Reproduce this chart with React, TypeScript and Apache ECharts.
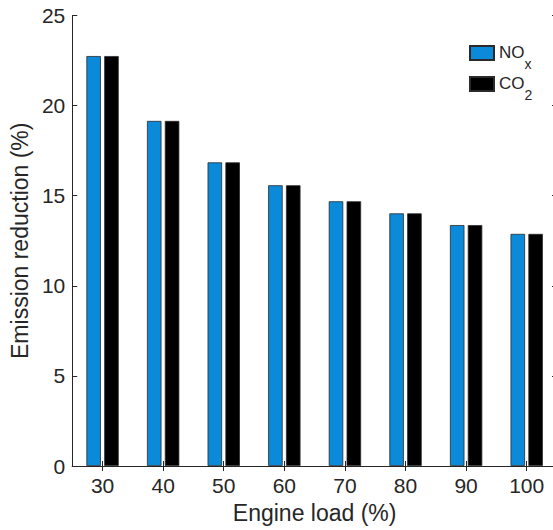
import React, { useEffect, useRef } from "react";
import * as echarts from "echarts";

const categories = ["30", "40", "50", "60", "70", "80", "90", "100"];
const noxValues = [22.75, 19.15, 16.85, 15.58, 14.69, 14.02, 13.37, 12.88];
const co2Values = [22.75, 19.15, 16.85, 15.58, 14.69, 14.02, 13.37, 12.88];
const seriesNames = ["NOx", "CO2"];

const FONT = "'Liberation Sans', Arial, Helvetica, sans-serif";
const INK = "#262626";

export default function App() {
  const ref = useRef<HTMLDivElement>(null);
  useEffect(() => {
    if (!ref.current) return;
    const chart = echarts.init(ref.current, undefined, { renderer: "svg" });
    const tick = { show: true, inside: true, length: 5, lineStyle: { color: INK, width: 1 } };
    chart.setOption({
      animation: false,
      backgroundColor: "#ffffff",
      textStyle: { fontFamily: FONT, color: INK },
      grid: { left: 66, top: 15.5, bottom: 64, right: 0, containLabel: false },
      legend: {
        orient: "vertical",
        left: 469,
        top: 44,
        padding: 0,
        itemGap: 4,
        itemWidth: 24,
        itemHeight: 14,
        icon: "rect",
        data: seriesNames,
        formatter: (name: string) => (name === "NOx" ? "{m|NO}{s|x}" : "{m|CO}{s|2}"),
        textStyle: {
          fontFamily: FONT,
          color: INK,
          rich: {
            m: { fontSize: 17, lineHeight: 18, verticalAlign: "top", fontFamily: FONT, color: INK },
            s: { fontSize: 14, lineHeight: 14, verticalAlign: "top", padding: [13, 0, 0, 0], fontFamily: FONT, color: INK },
          },
        },
      },
      xAxis: [
        {
          type: "category",
          data: categories,
          position: "bottom",
          boundaryGap: true,
          name: "Engine load (%)",
          nameLocation: "middle",
          nameGap: 35,
          nameTextStyle: { fontSize: 23, color: INK, fontFamily: FONT },
          axisLine: { show: true, lineStyle: { color: INK, width: 1 } },
          axisTick: { ...tick, alignWithLabel: true },
          axisLabel: { fontSize: 21, color: INK, margin: 9, fontFamily: FONT },
          splitLine: { show: false },
        },
        {
          type: "category",
          data: categories,
          position: "top",
          boundaryGap: true,
          axisLine: { show: true, lineStyle: { color: INK, width: 1 } },
          axisTick: { ...tick, alignWithLabel: true },
          axisLabel: { show: false },
          splitLine: { show: false },
        },
      ],
      yAxis: [
        {
          type: "value",
          min: 0,
          max: 25,
          interval: 5,
          position: "left",
          name: "Emission reduction (%)",
          nameLocation: "middle",
          nameGap: 30,
          nameTextStyle: { fontSize: 23, color: INK, fontFamily: FONT },
          axisLine: { show: true, lineStyle: { color: INK, width: 1 } },
          axisTick: tick,
          axisLabel: { fontSize: 21, color: INK, margin: 7, fontFamily: FONT },
          splitLine: { show: false },
        },
        {
          type: "value",
          min: 0,
          max: 25,
          interval: 5,
          position: "right",
          axisLine: { show: true, lineStyle: { color: INK, width: 1 } },
          axisTick: tick,
          axisLabel: { show: false },
          splitLine: { show: false },
        },
      ],
      series: [
        {
          name: seriesNames[0],
          type: "bar",
          data: noxValues,
          barWidth: 14.5,
          barGap: "23%",
          itemStyle: { color: "#0a8ad9", borderColor: "#2a2a2a", borderWidth: 0.8 },
        },
        {
          name: seriesNames[1],
          type: "bar",
          data: co2Values,
          barWidth: 14.5,
          barGap: "23%",
          itemStyle: { color: "#000000", borderColor: "#2a2a2a", borderWidth: 0.8 },
        },
      ],
    });
    return () => chart.dispose();
  }, []);
  return (
    <div
      style={{ position: "absolute", left: 0, top: 0, width: 553, height: 530, overflow: "hidden", background: "#fff" }}
    >
      <div ref={ref} style={{ width: 557, height: 530 }} />
    </div>
  );
}
